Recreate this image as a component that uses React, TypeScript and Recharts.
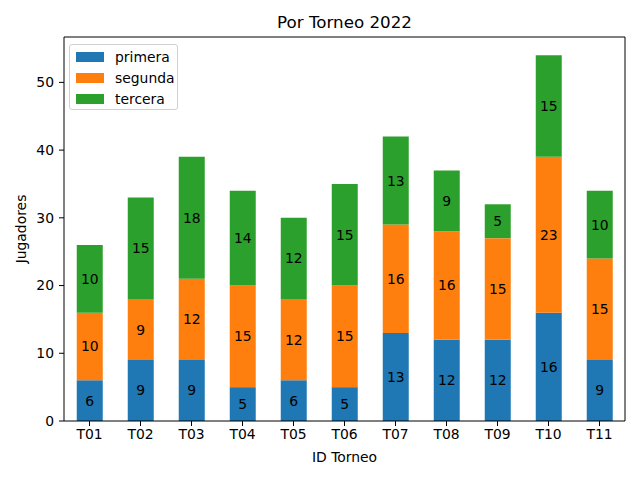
import React from 'react';
import { BarChart, Bar, XAxis, YAxis, LabelList } from 'recharts';

const categories = ['T01', 'T02', 'T03', 'T04', 'T05', 'T06', 'T07', 'T08', 'T09', 'T10', 'T11'];
const primera = [6, 9, 9, 5, 6, 5, 13, 12, 12, 16, 9];
const segunda = [10, 9, 12, 15, 12, 15, 16, 16, 15, 23, 15];
const tercera = [10, 15, 18, 14, 12, 15, 13, 9, 5, 15, 10];
const yTicks = [0, 10, 20, 30, 40, 50];

const seriesNames = ['primera', 'segunda', 'tercera'];
const colors = ['#1f77b4', '#ff7f0e', '#2ca02c'];

const data = categories.map((c, i) => ({
  id: c,
  primera: primera[i],
  segunda: segunda[i],
  tercera: tercera[i],
}));

const FONT = 'DejaVu Sans, sans-serif';

const LegendBox = () => (
  <div
    style={{
      position: 'absolute',
      left: 69,
      top: 44,
      boxSizing: 'border-box',
      width: 109,
      height: 66,
      border: '1px solid #d0d0d0',
      borderRadius: 3,
      background: 'rgba(255,255,255,0.8)',
      padding: '1px 0 0 6px',
      fontFamily: FONT,
      fontSize: 13.9,
    }}
  >
    {seriesNames.map((n, i) => (
      <div key={n} style={{ display: 'flex', alignItems: 'center', height: 21, whiteSpace: 'nowrap' }}>
        <div style={{ width: 28, height: 10, background: colors[i], marginRight: 11, flex: 'none' }} />
        <span style={{ color: '#000' }}>{n}</span>
      </div>
    ))}
  </div>
);

const YLabel = (props: any) => {
  const vb = props.viewBox || {};
  const x = vb.x + 7;
  const y = vb.y + vb.height / 2;
  return (
    <text x={x} y={y} transform={`rotate(-90, ${x}, ${y})`} textAnchor="middle" dominantBaseline="central"
      fontFamily={FONT} fontSize={13.9} fill="#000">
      Jugadores
    </text>
  );
};

export default function App() {
  return (
    <div style={{ position: 'absolute', left: 0, top: 0, width: 640, height: 480, background: '#fff' }}>
      <div
        style={{
          position: 'absolute',
          left: 64,
          width: 561,
          top: 12,
          textAlign: 'center',
          fontFamily: FONT,
          fontSize: 16.7,
          lineHeight: '20px',
          color: '#000',
        }}
      >
        Por Torneo 2022
      </div>
      <BarChart
        width={640}
        height={480}
        data={data}
        margin={{ top: 36, right: 14, bottom: 14, left: 14 }}
        barCategoryGap="25%"
      >
        <XAxis
          dataKey="id"
          height={45}
          stroke="#000"
          tickLine={{ stroke: '#000' }}
          tickSize={5}
          tickMargin={3}
          tick={{ fill: '#000', fontFamily: FONT, fontSize: 13.9 }}
          label={{ value: 'ID Torneo', position: 'insideBottom', offset: 4, fill: '#000', fontFamily: FONT, fontSize: 13.9 }}
        />
        <XAxis xAxisId="top" orientation="top" dataKey="id" height={1} stroke="#000" tick={false} tickLine={false} />
        <YAxis
          width={50}
          domain={[0, 56.7]}
          ticks={yTicks}
          allowDataOverflow
          stroke="#000"
          tickLine={{ stroke: '#000' }}
          tickSize={5}
          tickMargin={5}
          tick={{ fill: '#000', fontFamily: FONT, fontSize: 13.9 }}
          label={<YLabel />}
        />
        <YAxis yAxisId="right" orientation="right" width={1} domain={[0, 56.7]} stroke="#000" tick={false} tickLine={false} />
        {seriesNames.map((n, i) => (
          <Bar key={n} dataKey={n} stackId="a" fill={colors[i]} isAnimationActive={false}>
            <LabelList dataKey={n} position="center" fill="#000" fontFamily={FONT} fontSize={13.9} />
          </Bar>
        ))}
      </BarChart>
      <LegendBox />
    </div>
  );
}
